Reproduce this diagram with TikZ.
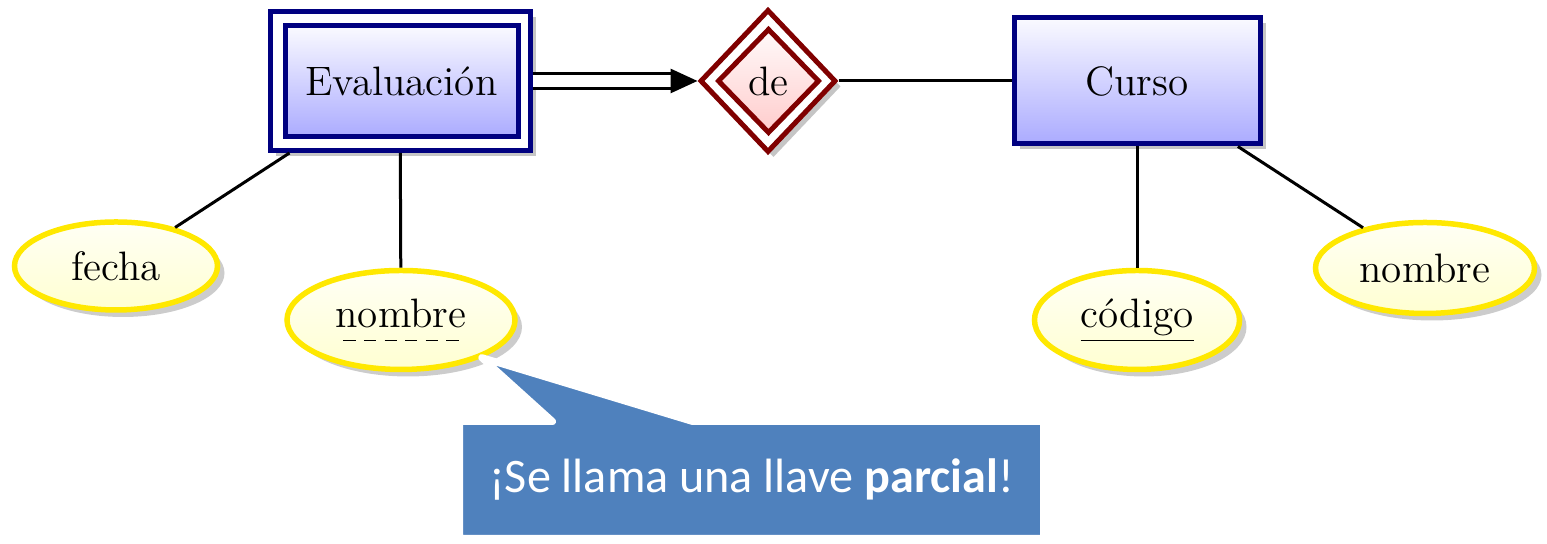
\documentclass[tikz,border=0pt]{standalone}
\usepackage{fontspec}
\usetikzlibrary{shapes.geometric,shapes.callouts,shadows,arrows.meta}
\definecolor{entborder}{RGB}{0,0,128}
\definecolor{relborder}{RGB}{128,0,0}
\definecolor{attborder}{RGB}{255,232,0}
\definecolor{notefill}{RGB}{79,129,189}
\newfontfamily\notefont{Carlito}
% underlines for keys
\newcommand{\fullkey}[1]{\leavevmode\setbox0\hbox{#1}%
  \rlap{\vrule width\wd0 height -0.30em depth 0.34em}\box0}
\newcommand{\partialkey}[1]{\leavevmode\setbox0\hbox{#1}%
  \rlap{\hbox to\wd0{\cleaders\hbox to 0.5em{\hss\vrule width 0.3em height -0.30em depth 0.34em\hss}\hfill}}\box0}

\begin{document}
\begin{tikzpicture}[font=\fontsize{11.7}{14}\selectfont,
    shade me/.style={drop shadow={shadow xshift=0.055cm,shadow yshift=-0.055cm,fill=black!45}},
    ebox/.style={rectangle,draw=entborder,line width=0.05cm,inner sep=0pt},
    entity/.style={ebox,top color=blue!2,bottom color=blue!33},
    rbox/.style={diamond,draw=relborder,line width=0.05cm,inner sep=0pt},
    relationship/.style={rbox,top color=red!2,bottom color=red!20},
    attribute/.style={ellipse,draw=attborder,line width=0.055cm,inner sep=0pt,
      top color=yellow!4,bottom color=yellow!18,
      drop shadow={shadow xshift=0.07cm,shadow yshift=-0.07cm,fill=black!40}},
    link/.style={line width=0.03cm}]
  \useasboundingbox (0,0) rectangle (15.47,5.44);

  % entities and relationship
  \node[ebox,fill=white,shade me,minimum width=2.6cm,minimum height=1.39cm] (eval) at (4.00,4.63) {};
  \node[entity,minimum width=2.33cm,minimum height=1.11cm] (evalin) at (4.015,4.625) {Evaluación};
  \node[rbox,fill=white,shade me,minimum width=1.36cm,minimum height=1.43cm] (de) at (7.68,4.63) {};
  \node[relationship,minimum width=1.02cm,minimum height=1.05cm] (dein) at (7.685,4.63) {de};
  \node[entity,shade me,minimum width=2.46cm,minimum height=1.26cm] (curso) at (11.37,4.63) {Curso};

  % attributes
  \node[attribute,minimum width=2.03cm,minimum height=0.88cm] (fecha) at (1.16,2.78) {fecha};
  \node[attribute,minimum width=2.28cm,minimum height=0.99cm] (nombreeval) at (4.01,2.24) {\partialkey{nombre}};
  \node[attribute,minimum width=2.05cm,minimum height=0.99cm] (codigo) at (11.37,2.24) {\fullkey{código}};
  \node[attribute,minimum width=2.19cm,minimum height=0.91cm] (nombrecurso) at (14.25,2.76) {nombre};

  \draw[link] (eval) -- (fecha);
  \draw[link] (eval) -- (nombreeval);
  \draw[link] (de) -- (curso);
  \draw[link] (curso) -- (codigo);
  \draw[link] (curso) -- (nombrecurso);
  \draw[link,double,double distance=0.12cm,-{Triangle[length=0.27cm,width=0.24cm]}] (eval) -- (de);

  % note
  \node[rectangle callout,callout absolute pointer={(nombreeval.-25)},callout pointer width=1.4cm,
    fill=notefill,draw=white,line width=0.07cm,line join=round,text=white,
    minimum width=5.84cm,minimum height=1.17cm,
    drop shadow={shadow xshift=0.012cm,shadow yshift=-0.015cm,fill=black!35,opacity=.35},
    font=\notefont\fontsize{13.7}{16}\selectfont] (nota) at (7.515,0.64) {¡Se llama una llave \textbf{parcial}!};
\end{tikzpicture}
\end{document}
